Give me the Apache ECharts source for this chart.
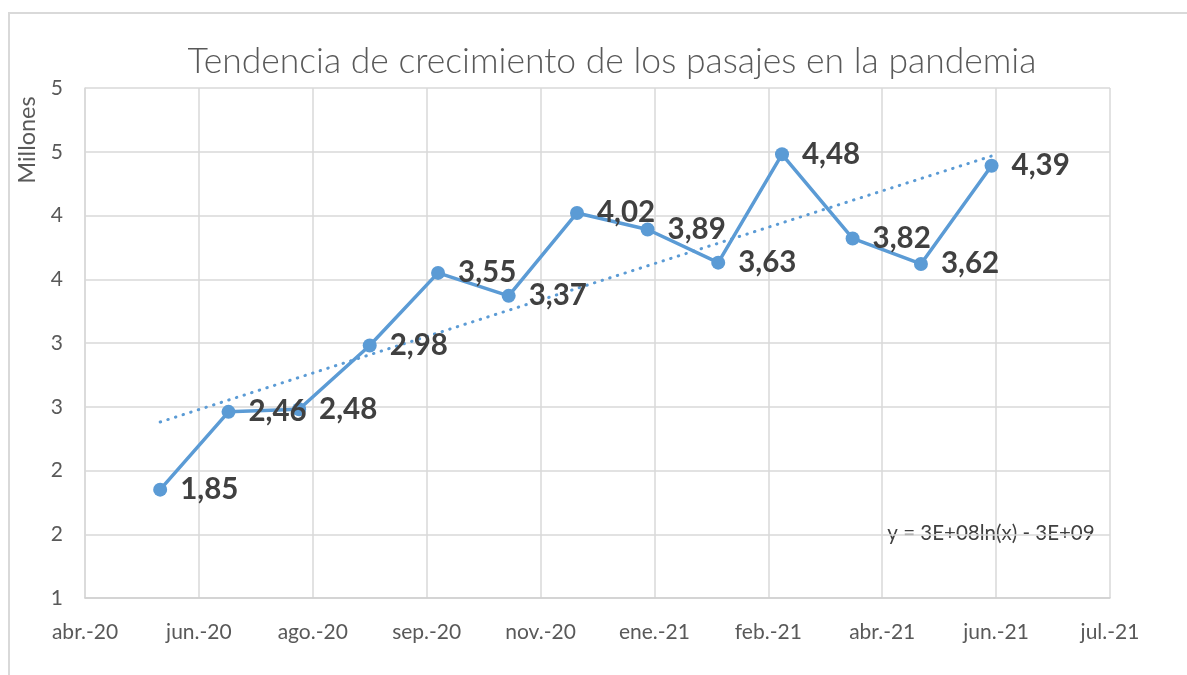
<!DOCTYPE html>
<html>
<head>
<meta charset="utf-8">
<script src="https://cdn.jsdelivr.net/npm/echarts@6/dist/echarts.min.js"></script>
<style>
html,body{margin:0;padding:0;background:#fff;}
#chart{width:1187px;height:675px;}
</style>
</head>
<body>
<div id="chart"></div>
<script>
// ---- data ----
const titleText = 'Tendencia de crecimiento de los pasajes en la pandemia';
const yAxisUnitLabel = 'Millones';
const axisStartDate = '2020-04-28';
const axisSpanDays = 450;
const tickStepDays = 50;
const dates = ['2020-05-31','2020-06-30','2020-07-31','2020-08-31','2020-09-30','2020-10-31','2020-11-30','2020-12-31','2021-01-31','2021-02-28','2021-03-31','2021-04-30','2021-05-31'];
const values = [1.85, 2.46, 2.48, 2.98, 3.55, 3.37, 4.02, 3.89, 3.63, 4.48, 3.82, 3.62, 4.39];
const xTickLabels = ['abr.-20','jun.-20','ago.-20','sep.-20','nov.-20','ene.-21','feb.-21','abr.-21','jun.-21','jul.-21'];
const yTickLabels = ['1','2','2','3','3','4','4','5','5'];
const yMin = 1, yMax = 5, yStep = 0.5;
const trendEquation = 'y = 3E+08ln(x) - 3E+09';

// ---- helpers ----
const DAY = 86400000;
const t0 = Date.parse(axisStartDate);
const excelEpoch = Date.parse('1899-12-30');
const xDays = dates.map(d => Math.round((Date.parse(d) - t0) / DAY));
const serials = dates.map(d => Math.round((Date.parse(d) - excelEpoch) / DAY));

// logarithmic trendline fit (y = a ln(x) + b) on Excel date serials
const lx = serials.map(Math.log);
const n = lx.length;
const mx = lx.reduce((a, b) => a + b, 0) / n;
const my = values.reduce((a, b) => a + b, 0) / n;
let sxy = 0, sxx = 0;
for (let i = 0; i < n; i++) { sxy += (lx[i] - mx) * (values[i] - my); sxx += (lx[i] - mx) ** 2; }
const slope = sxy / sxx, intercept = my - slope * mx;
const trendData = serials.map((s, i) => [xDays[i], slope * Math.log(s) + intercept]);

const mainData = values.map((v, i) => [xDays[i], v]);
const fontFam = 'Lato, "Open Sans", sans-serif';
const blue = '#5B9BD5';

const chart = echarts.init(document.getElementById('chart'));
chart.setOption({
  animation: false,
  backgroundColor: '#fff',
  title: {
    text: titleText,
    left: 607, top: 39, textAlign: 'center',
    textStyle: { fontFamily: fontFam, fontWeight: 300, fontSize: 35.5, color: '#595959' }
  },
  grid: { left: 85, right: 77, top: 88, bottom: 77, containLabel: false },
  xAxis: {
    type: 'value', min: 0, max: axisSpanDays, interval: tickStepDays,
    axisLine: { show: true, lineStyle: { color: '#d0d0d0', width: 1.5 } },
    axisTick: { show: false },
    splitLine: { show: true, lineStyle: { color: '#d9d9d9', width: 1.5 } },
    axisLabel: {
      margin: 24, fontFamily: fontFam, fontSize: 21, color: '#595959',
      formatter: v => xTickLabels[Math.round(v / tickStepDays)] || ''
    }
  },
  yAxis: {
    type: 'value', min: yMin, max: yMax, interval: yStep,
    axisLine: { show: true, lineStyle: { color: '#d9d9d9', width: 1.5 } },
    axisTick: { show: false },
    splitLine: { show: true, lineStyle: { color: '#d9d9d9', width: 1.5 } },
    axisLabel: {
      margin: 22, fontFamily: fontFam, fontSize: 21, color: '#595959',
      formatter: v => yTickLabels[Math.round((v - yMin) / yStep)] || ''
    }
  },
  series: [
    {
      type: 'line', data: trendData, z: 1,
      symbol: 'none', silent: true,
      lineStyle: { color: blue, width: 3, type: [0.5, 7.5], cap: 'round' }
    },
    {
      type: 'line', data: mainData, z: 2,
      symbol: 'circle', symbolSize: 14,
      itemStyle: { color: blue },
      lineStyle: { color: blue, width: 3.5 },
      label: {
        show: true, position: 'right', distance: 13,
        fontFamily: fontFam, fontWeight: 'bold', fontSize: 29.5, color: '#404040',
        formatter: p => p.value[1].toFixed(2).replace('.', ',')
      },
      labelLayout: { hideOverlap: false }
    }
  ],
  graphic: [
    { type: 'rect', shape: { x: 9, y: 13, width: 1300, height: 800 }, style: { fill: 'none', stroke: '#d9d9d9', lineWidth: 2 }, z: -10 },
    { type: 'text', x: 27, y: 140, rotation: Math.PI / 2,
      style: { text: yAxisUnitLabel, fontFamily: fontFam, fontSize: 23.5, fill: '#595959', textAlign: 'center', textVerticalAlign: 'middle' } },
    { type: 'text', x: 991, y: 533,
      style: { text: trendEquation, fontFamily: fontFam, fontSize: 20.5, fill: '#404040', textAlign: 'center', textVerticalAlign: 'middle' } }
  ]
});
</script>
</body>
</html>
